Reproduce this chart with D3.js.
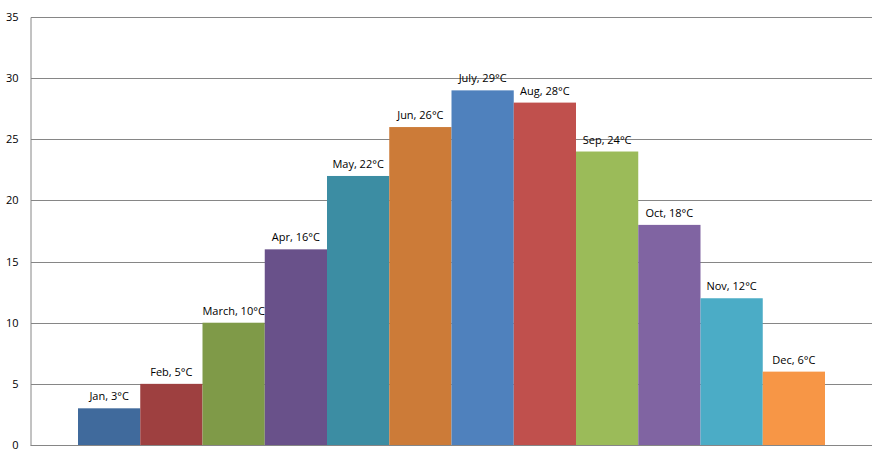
<!DOCTYPE html>
<html>
<head>
<meta charset="utf-8">
<script src="https://cdn.jsdelivr.net/npm/d3@7"></script>
<style>
body { margin: 0; background: #fff; }
.axis text { font-family: "Open Sans", "DejaVu Sans", sans-serif; font-size: 11px; fill: #000; }
.lbl { font-family: "Open Sans", "DejaVu Sans", sans-serif; font-size: 11px; fill: #000; }
</style>
</head>
<body>
<div id="chart"></div>
<script>
var months = ['Jan','Feb','March','Apr','May','Jun','July','Aug','Sep','Oct','Nov','Dec'];
var temps = [3, 5, 10, 16, 22, 26, 29, 28, 24, 18, 12, 6];
var colors = ['#406A9C','#9E4040','#7F9A48','#69518A','#3C8DA3','#CC7B38',
              '#4F81BD','#C0504D','#9BBB59','#8064A2','#4BACC6','#F79646'];
var yTicks = [0, 5, 10, 15, 20, 25, 30, 35];

var width = 877, height = 457;
var plotLeft = 31, plotRight = 872, plotTop = 17, plotBottom = 445;

var svg = d3.select("#chart")
            .append("svg")
            .attr("width", width)
            .attr("height", height);

var x = d3.scaleBand().domain(months).range([plotLeft, plotRight]).paddingInner(0).paddingOuter(0.755);
var y = d3.scaleLinear().domain([0, 35]).range([plotBottom, plotTop]);

// gridlines
svg.append("g")
   .selectAll("line")
   .data(yTicks.filter(function(d){ return d > 0; }))
   .enter().append("line")
   .attr("x1", plotLeft).attr("x2", plotRight)
   .attr("y1", function(d){ return Math.round(y(d)) + 0.5; })
   .attr("y2", function(d){ return Math.round(y(d)) + 0.5; })
   .attr("stroke", "#868686");

// bars
svg.append("g")
   .selectAll("rect")
   .data(months)
   .enter().append("rect")
   .attr("x", function(d){ return x(d); })
   .attr("width", x.bandwidth())
   .attr("y", function(d, i){ return y(temps[i]); })
   .attr("height", function(d, i){ return y(0) - y(temps[i]); })
   .attr("fill", function(d, i){ return colors[i]; });

// labels
svg.append("g")
   .selectAll("text")
   .data(months)
   .enter().append("text")
   .attr("class", "lbl")
   .attr("x", function(d){ return x(d) + x.bandwidth() / 2; })
   .attr("y", function(d, i){ return y(temps[i]) - 8; })
   .attr("text-anchor", "middle")
   .text(function(d, i){ return d + ", " + temps[i] + "°C"; });

// y axis
var yAxis = d3.axisLeft(y).tickValues(yTicks).tickSize(0).tickPadding(12);
var ya = svg.append("g").attr("class", "axis").attr("transform", "translate(" + (plotLeft - 0.5) + ",0)").call(yAxis);
ya.select(".domain").attr("stroke", "#868686");

// x axis baseline
svg.append("line")
   .attr("x1", plotLeft - 0.5).attr("x2", plotRight)
   .attr("y1", Math.round(y(0)) + 0.5).attr("y2", Math.round(y(0)) + 0.5)
   .attr("stroke", "#868686");
</script>
</body>
</html>
